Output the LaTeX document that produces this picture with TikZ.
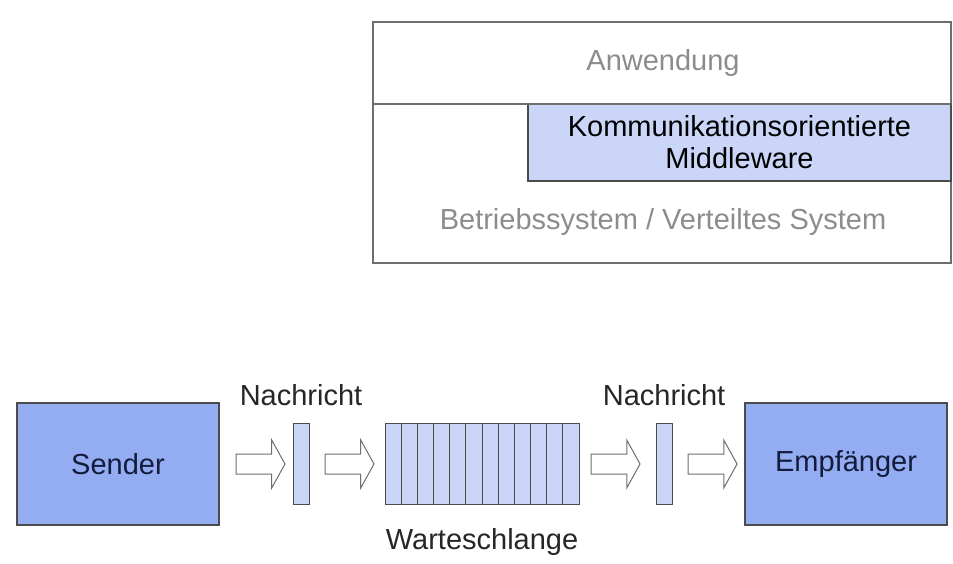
\documentclass[tikz,border=0pt]{standalone}
\usepackage{fontspec}
\setmainfont{Liberation Sans}
\usetikzlibrary{positioning, shapes.arrows}

\definecolor{boxblue}{RGB}{148,172,242}
\definecolor{cellblue}{RGB}{202,213,248}
\definecolor{edgegray}{RGB}{110,110,110}
\definecolor{labelgray}{RGB}{140,140,140}
\definecolor{navytext}{RGB}{20,28,60}

\begin{document}
\begin{tikzpicture}[
    x=1pt, y=-1pt,
    every node/.style={font=\fontsize{29}{32}\selectfont, outer sep=0pt},
    frame/.style={
        draw=edgegray, line width=1.2pt, inner sep=0pt,
        minimum width=578pt, minimum height=241pt
    },
    layertext/.style={text=labelgray, inner sep=0pt},
    mwbox/.style={
        draw=black!70, fill=cellblue, line width=1.2pt, inner sep=0pt,
        minimum width=423pt, minimum height=77pt, align=center
    },
    party/.style={
        draw=black!70, fill=boxblue, line width=1.2pt,
        minimum width=202pt, minimum height=122pt, text=navytext
    },
    msg/.style={
        draw=black!70, fill=cellblue, line width=1pt, inner sep=0pt,
        minimum width=16pt, minimum height=81pt
    },
    cell/.style={msg, minimum width=16.17pt},
    flow/.style={
        single arrow, draw=edgegray, fill=white, line width=1pt,
        minimum height=49pt, minimum width=47pt,
        single arrow head extend=14pt, single arrow tip angle=122,
        inner xsep=0pt, inner ysep=9.5pt
    },
    lbl/.style={inner sep=0pt, text=black!85},
]
\useasboundingbox (0,0) rectangle (953,564);

% ── layer model ──
\node[frame] (system) at (662,142.5) {};
\node[mwbox, anchor=north east] (mw) at (system.east |- 0,104)
    {Kommunikationsorientierte\\Middleware};
\draw[edgegray, line width=1.2pt] (system.west |- mw.north) -- (system.east |- mw.north);
\node[layertext] (app) at (663,63) {Anwendung};
\node[layertext] (os) at (663,222) {Betriebssystem / Verteiltes System};

% ── message flow ──
\node[party] (sender) at (118,464) {Sender};
\node[flow, right=17pt of sender] (arrA) {};
\node[msg, right=8pt of arrA] (msgA) {};
\node[flow, right=16pt of msgA] (arrB) {};

% ── queue ──
\node[cell, right=11pt of arrB] (q1) {};
\foreach \i [count=\j] in {2,...,12}
    \node[cell, right=0pt of q\j] (q\i) {};

\node[flow, right=12pt of q12] (arrC) {};
\node[msg, right=16pt of arrC] (msgB) {};
\node[flow, right=16pt of msgB] (arrD) {};
\node[party, right=8pt of arrD] (receiver) {Empfänger};

% ── labels ──
\node[lbl, above=18pt of msgA] (msgAlabel) {Nachricht};
\node[lbl, above=18pt of msgB] (msgBlabel) {Nachricht};
\node[lbl, below=24pt of q6.south east] (queuelabel) {Warteschlange};

\end{tikzpicture}
\end{document}
